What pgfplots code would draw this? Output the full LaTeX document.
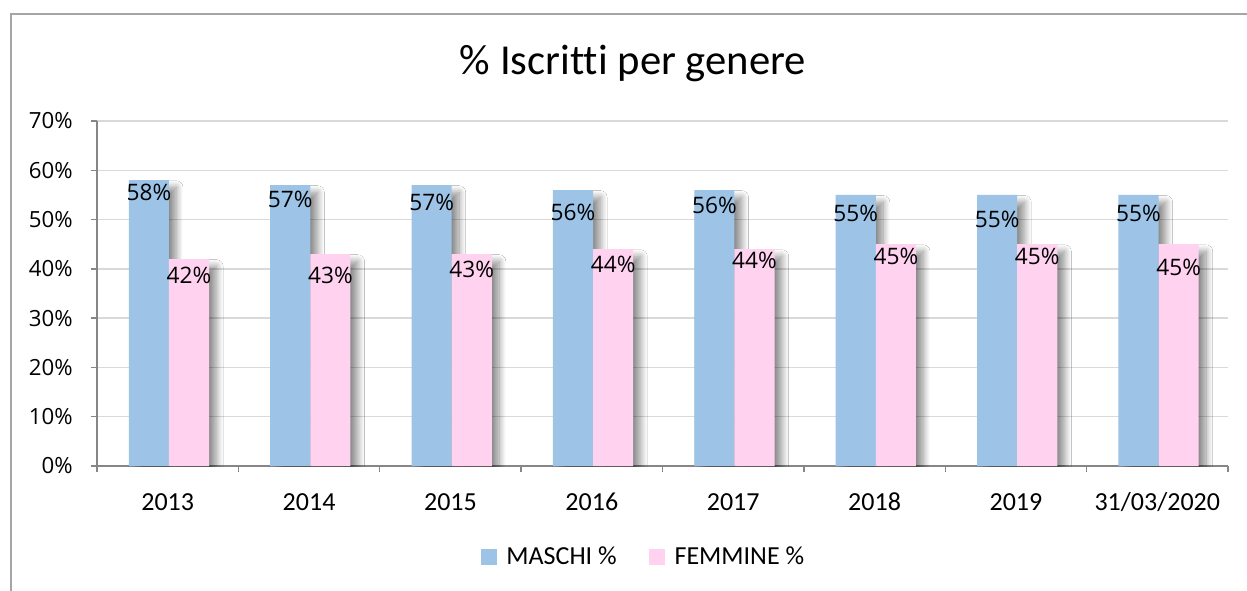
\documentclass[border=0pt]{standalone}
\usepackage{pgfplots}
\pgfplotsset{compat=1.18}
\usepackage{pgfplotstable}
\usepackage{fontspec}
\setmainfont[Ligatures=NoCommon]{Carlito}
\newfontfamily\lblfont{Open Sans}
\usetikzlibrary{shadows.blur}
\definecolor{mblue}{RGB}{157,195,230}
\definecolor{mpink}{RGB}{255,210,240}
\definecolor{gridc}{RGB}{217,217,217}
\definecolor{axisc}{RGB}{134,134,134}
\definecolor{framec}{RGB}{165,165,165}

% i = category index, m = MASCHI %, f = FEMMINE %, my/fy = label heights
\pgfplotstableread{
i m f my fy
0 58 42 55.6 38.7
1 57 43 54.0 38.7
2 57 43 53.5 39.9
3 56 44 51.5 41.0
4 56 44 52.8 41.8
5 55 45 51.3 42.5
6 55 45 50.0 42.5
7 55 45 51.3 40.3
}\datatab

\begin{document}
\begin{tikzpicture}
\useasboundingbox (0,0) rectangle (935.25pt,442.5pt);
\fill[white] (0,0) rectangle (935.25pt,442.5pt);
\draw[framec, line width=0.8pt] (8.25pt,-5pt) -- (8.25pt,432pt) -- (945pt,432pt);
\node[anchor=base, inner sep=0pt, font=\fontsize{32}{38}\selectfont] at (474.75pt,386.25pt) {\% Iscritti per genere};
\begin{axis}[
  at={(72.75pt,93pt)}, anchor=south west,
  scale only axis, width=848.25pt, height=258.75pt,
  xmin=-0.5, xmax=7.5, ymin=0, ymax=70,
  axis x line*=bottom, axis y line*=left,
  axis line style={axisc, line width=1.5pt},
  tick align=outside,
  xtick={0,...,7},
  xticklabels={2013,2014,2015,2016,2017,2018,2019,31/03/2020},
  major x tick style={draw=none},
  minor xtick={-0.5,0.5,...,7.5},
  minor tick length=4.5pt,
  minor x tick style={axisc, line width=1pt},
  ytick={0,10,...,70},
  yticklabels={0\%,10\%,20\%,30\%,40\%,50\%,60\%,70\%},
  major tick length=4.5pt,
  y tick style={axisc, line width=1pt},
  ymajorgrids, grid style={gridc, line width=1pt},
  xticklabel style={font=\fontsize{19.5}{23}\selectfont, anchor=base, inner sep=0pt, yshift=-29pt},
  yticklabel style={font=\lblfont\fontsize{16.7}{20}\selectfont, anchor=east, inner sep=0pt, xshift=-13.5pt},
  legend style={at={(0.3395,-0.2638)}, anchor=west, draw=none, fill=none, inner sep=0pt,
    legend columns=2, font=\fontsize{19.5}{23}\selectfont,
    /tikz/every odd column/.append style={column sep=5.25pt},
    /tikz/every even column/.append style={column sep=22.5pt}},
  legend cell align=left,
]
\addlegendimage{legend image code/.code={\fill[mblue] (0pt,-5.6pt) rectangle (11.25pt,5.6pt);}}
\addlegendentry{MASCHI \%}
\addlegendimage{legend image code/.code={\fill[mpink] (0pt,-5.6pt) rectangle (11.25pt,5.6pt);}}
\addlegendentry{FEMMINE \%}
\addplot[ybar, forget plot, bar width=0.284, bar shift=-0.133, fill=mblue, draw=none,
  blur shadow={shadow xshift=5.5pt, shadow yshift=-5.5pt, shadow blur radius=5pt, shadow blur steps=16, shadow opacity=45}]
  table[x=i, y=m] {\datatab};
\addplot[ybar, forget plot, bar width=0.284, bar shift=0.151, fill=mpink, draw=none,
  blur shadow={shadow xshift=5.5pt, shadow yshift=-5.5pt, shadow blur radius=5pt, shadow blur steps=16, shadow opacity=45}]
  table[x=i, y=f] {\datatab};
\addplot[draw=none, mark=none, forget plot, point meta=explicit,
  nodes near coords={\pgfmathprintnumber[fixed,precision=0,assume math mode=true]{\pgfplotspointmeta}\%},
  nodes near coords style={anchor=center, inner sep=0pt, text=black, font=\lblfont\fontsize{17}{20}\selectfont}]
  table[x expr=\thisrow{i}-0.133, y=my, meta=m] {\datatab};
\addplot[draw=none, mark=none, forget plot, point meta=explicit,
  nodes near coords={\pgfmathprintnumber[fixed,precision=0,assume math mode=true]{\pgfplotspointmeta}\%},
  nodes near coords style={anchor=center, inner sep=0pt, text=black, font=\lblfont\fontsize{17}{20}\selectfont}]
  table[x expr=\thisrow{i}+0.151, y=fy, meta=f] {\datatab};
\end{axis}
\end{tikzpicture}
\end{document}
